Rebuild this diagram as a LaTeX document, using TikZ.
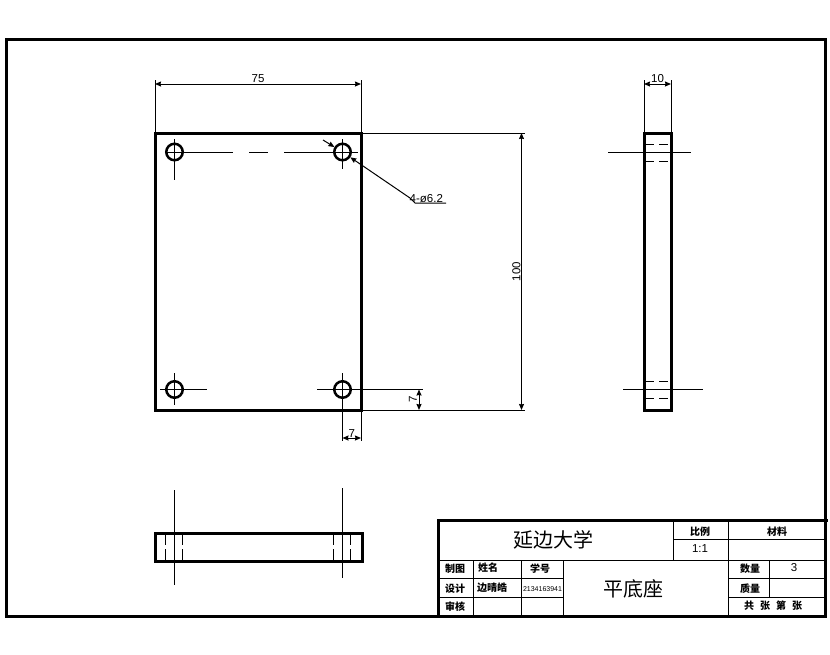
\documentclass[tikz,border=0pt]{standalone}
\usepackage{fontspec}
\setmainfont{Liberation Sans}
\newfontfamily\cjk{Noto Sans CJK SC}
\usetikzlibrary{arrows.meta}
\tikzset{
    thick line/.style={line width=3pt, line cap=rect},
    thin line/.style={line width=1pt},
    hidden line/.style={line width=1pt, dash pattern=on 9pt off 5pt},
    hidden short/.style={line width=1pt, dash pattern=on 11pt off 4pt},
    tip line/.style={line width=1pt, -{Stealth[length=6pt,width=5pt,inset=0.5pt]}},
    dim line/.style={line width=1pt, {Stealth[length=6pt,width=5pt,inset=0.5pt]}-{Stealth[length=6pt,width=5pt,inset=0.5pt]}},
    dim text/.style={font=\fontsize{11.5}{13}\selectfont, inner sep=0pt},
    cell text/.style={font=\cjk\bfseries\fontsize{10}{12}\selectfont, inner sep=0pt},
    big text/.style={font=\cjk\fontsize{20}{24}\selectfont, inner sep=0pt},
    hole/.style={circle, draw=black, line width=2.5pt, inner sep=0pt, minimum size=16.5pt}
}
\begin{document}
\begin{tikzpicture}[x=1pt, y=-1pt]
    \useasboundingbox (0,0) rectangle (830,654);
    % frame and plate
    \draw[thick line] (6,39) rectangle (825,616);
    \draw[thick line] (155,133) rectangle (361,410);
    \foreach[count=\x] \p in {(174.5,152),(342.5,152),(174.5,389.5),(342.5,389.5)}
    {
        \node[hole] (h\x) at \p {};
    }
    % centre lines, front view
    \draw[thin line] (165,152) -- (233,152) (249,152) -- (268,152) (284,152) -- (358,152);
    \draw[thin line] (174.5,139) -- (174.5,180);
    \draw[thin line] (342.5,139) -- (342.5,169);
    \draw[thin line] (160,389.5) -- (207,389.5);
    \draw[thin line] (317,389.5) -- (423,389.5);
    \draw[thin line] (174.5,373) -- (174.5,405);
    \draw[thin line] (342.5,373) -- (342.5,441);
    % dimensions, front view
    \draw[thin line] (155,80) -- (155,133) (361,80) -- (361,133);
    \draw[dim line] (155,84) -- node[dim text, above=0.5pt] (w75) {75} (361,84);
    \draw[thin line] (361,133) -- (525,133) (361,410) -- (525,410);
    \draw[dim line] (521.5,133) -- node[dim text, rotate=90, yshift=5pt] (h100) {100} (521.5,410);
    \draw[dim line] (419,389.5) -- node[dim text, rotate=90, yshift=6pt] (v7) {7} (419,410);
    \draw[thin line] (361,410) -- (361,441);
    \draw[dim line] (342.5,438) -- node[dim text, above=0.5pt] (u7) {7} (361,438);
    \coordinate (c1) at (323,140);
    \coordinate (c2) at (410,198);
    \node[dim text, anchor=south west] (d4) at (409.5,203) {4-ø6.2};
    \draw[tip line] (c1) -- (h2);
    \draw[tip line] (c2) -- (h2);
    \draw[thin line] (c2) -- (415,203) -- (446,203);
    % side view
    \draw[thick line] (644,133) rectangle (671,410);
    \draw[thin line] (644,80) -- (644,133) (671,80) -- (671,133);
    \draw[dim line] (644,84) -- node[dim text, above=0.5pt] (w10) {10} (671,84);
    \foreach \y in {144,161,381.5,398.5}
    {
        \draw[hidden line] (645,\y) -- (670,\y);
    }
    \draw[thin line] (608,152) -- (691,152);
    \draw[thin line] (623,389.5) -- (703,389.5);
    % top view
    \draw[thick line] (155,533) rectangle (362,561);
    \foreach \x in {165.5,182,333,350}
    {
        \draw[hidden short] (\x,534) -- (\x,560);
    }
    \draw[thin line] (174.5,490) -- (174.5,585);
    \draw[thin line] (342.5,488) -- (342.5,578);
    % title block
    \draw[thick line] (438,616) -- (438,520) -- (826,520);
    \draw[thin line] (673,520) -- (673,560);
    \draw[thin line] (728,520) -- (728,616);
    \draw[thin line] (673,539) -- (825,539);
    \draw[thin line] (438,560) -- (825,560);
    \draw[thin line] (438,578) -- (563,578) (728,578) -- (825,578);
    \draw[thin line] (438,597) -- (563,597) (728,597) -- (825,597);
    \draw[thin line] (473,560) -- (473,616) (521.5,560) -- (521.5,616) (563,560) -- (563,616);
    \draw[thin line] (769.5,560) -- (769.5,597);
    \node[big text] (school) at (553,540) {延边大学};
    \node[big text] (part) at (633,589) {平底座};
    \node[cell text] (ratio) at (700,532) {比例};
    \node[dim text] (scale) at (700,549) {1:1};
    \node[cell text] (material) at (777,532) {材料};
    \node[cell text] (count) at (750,569) {数量};
    \node[dim text] (three) at (794,568) {3};
    \node[cell text] (mass) at (750,589) {质量};
    \node[cell text] (sheet) at (773,606) {共\hspace{6pt}张\hspace{6pt}第\hspace{6pt}张};
    \node[cell text] (draw) at (455,569) {制图};
    \node[cell text] (name) at (488,568) {姓名};
    \node[cell text] (number) at (540,569) {学号};
    \node[cell text] (design) at (455,589) {设计};
    \node[cell text] (person) at (492,588) {边晴皓};
    \node[inner sep=0pt, font=\fontsize{7}{8}\selectfont] (id) at (542.5,589) {2134163941};
    \node[cell text] (check) at (455,607) {审核};
\end{tikzpicture}
\end{document}
